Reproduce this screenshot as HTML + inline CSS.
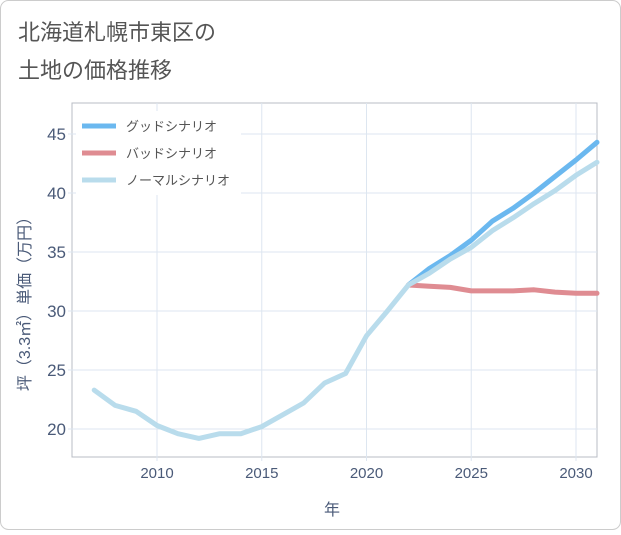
<!DOCTYPE html>
<html><head><meta charset="utf-8"><style>
body{margin:0;background:#fff;font-family:"Liberation Sans","Noto Sans CJK JP",sans-serif;}
#wrap{position:relative;width:621px;height:530px;}
</style></head><body>
<div id="wrap">
<svg id="chart" width="621" height="530">
<rect x="0.5" y="0.5" width="620" height="529" rx="8" fill="#fff" stroke="#ccc"/>
<text x="18" y="40" font-size="22" fill="#555">北海道札幌市東区の</text>
<text x="18" y="78" font-size="22" fill="#555">土地の価格推移</text>
<g id="grid"></g>
<g id="series"></g>
<g id="legend"></g>
<text x="332" y="515" font-size="16" fill="#4a5a78" text-anchor="middle">年</text>
<text transform="translate(30,300) rotate(-90)" font-size="16" fill="#4a5a78" text-anchor="middle">坪（3.3㎡）単価（万円）</text>
</svg>
</div>
<script>
const years=[2007,2008,2009,2010,2011,2012,2013,2014,2015,2016,2017,2018,2019,2020,2021,2022,2023,2024,2025,2026,2027,2028,2029,2030,2031];
const normalValues=[23.3,22.0,21.5,20.3,19.6,19.2,19.6,19.6,20.2,21.2,22.2,23.9,24.7,27.9,30.0,32.2,33.2,34.4,35.4,36.8,37.9,39.1,40.2,41.5,42.6];
const futureYears=[2022,2023,2024,2025,2026,2027,2028,2029,2030,2031];
const goodValues=[32.2,33.6,34.7,36.0,37.6,38.7,40.0,41.4,42.8,44.3];
const badValues=[32.2,32.1,32.0,31.7,31.7,31.7,31.8,31.6,31.5,31.5];
const xTicks=[2010,2015,2020,2025,2030];
const yTicks=[20,25,30,35,40,45];
const seriesNames=["グッドシナリオ","バッドシナリオ","ノーマルシナリオ"];
const L=72,R=597,T=103,B=457;
const xs=y=>157+(y-2010)*(576-157)/20;
const ys=v=>429-(v-20)*(429-134)/25;
const NS="http://www.w3.org/2000/svg";
function mk(t,a,p){const e=document.createElementNS(NS,t);for(const k in a)e.setAttribute(k,a[k]);p.appendChild(e);return e;}
const g=document.getElementById('grid');
const bg=mk('rect',{x:L,y:T,width:R-L,height:B-T,fill:'#fff',stroke:'#b8bcc4'},g);


xTicks.forEach(t=>{
 const l=mk('line',{x1:xs(t),x2:xs(t),y1:T,y2:B+4,stroke:'#dde6f0'},g);
 
 
 const tx=mk('text',{x:xs(t),y:478,'font-size':15,fill:'#4a5a78','text-anchor':'middle'},g);
 tx.textContent=t;
 
 
});
yTicks.forEach(t=>{
 const l=mk('line',{x1:L-4,x2:R,y1:ys(t),y2:ys(t),stroke:'#dde6f0'},g);
 
 
 const tx=mk('text',{x:66,y:ys(t)+6,'font-size':17,fill:'#4a5a78','text-anchor':'end'},g);
 tx.textContent=t;
 
 
});
const s=document.getElementById('series');
function line(xv,yv,color,name){
 const d=xv.map((x,i)=>(i?'L':'M')+xs(x).toFixed(1)+','+ys(yv[i]).toFixed(1)).join(' ');
 const p=mk('path',{d:d,fill:'none',stroke:color,'stroke-width':5,'stroke-linejoin':'round','stroke-linecap':'round'},s);
 
 
}
line(futureYears,goodValues,'#6bb8ef','good-scenario-line');
line(futureYears,badValues,'#df8c92','bad-scenario-line');
line(years,normalValues,'#b9dcec','normal-scenario-line');
const lg=document.getElementById('legend');
const lbg=mk('rect',{x:76,y:111,width:165,height:84,fill:'#fff'},lg);


const colors=['#6bb8ef','#df8c92','#b9dcec'];
seriesNames.forEach((n,i)=>{
 const y=126+i*27;
 const l=mk('line',{x1:82,x2:116,y1:y,y2:y,stroke:colors[i],'stroke-width':5},lg);
 
 
 const tx=mk('text',{x:126,y:y+5,'font-size':13,fill:'#555'},lg);
 tx.textContent=n;
 
 
});
</script>
</body></html>
